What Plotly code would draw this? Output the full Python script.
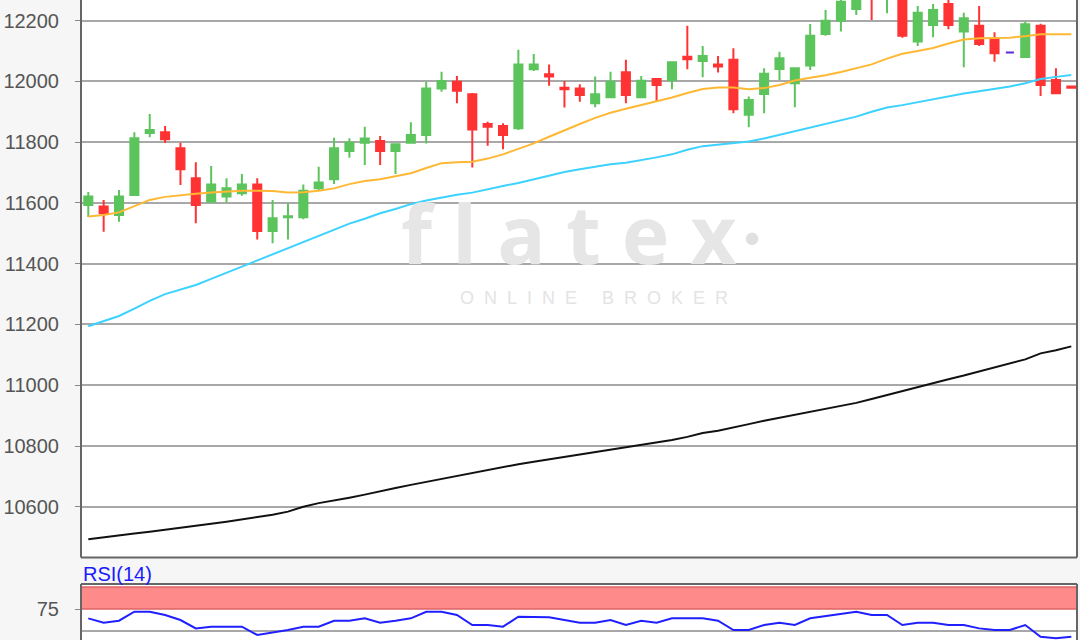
import plotly.graph_objects as go

# ---------------- data ----------------
idx = list(range(65))

opens = [11593,11588,11560,11626,11830,11833,11780,11681,11604,11621,
         11632,11661,11508,11553,11553,11648,11678,11771,11798,11804,
         11771,11798,11824,11977,11999,11958,11860,11853,11846,12040,
         12024,11979,11977,11928,11948,12030,11948,12008,12005,12081,
         12067,12056,12071,11890,11959,12041,11994,12052,12156,12200,
         12238,12305,12280,12290,12131,12186,12255,12164,12183,12139,
         12095,12080,12183,12005,11983]
highs = [11636,11610,11643,11833,11893,11853,11798,11734,11722,11681,
         11695,11681,11610,11599,11661,11719,11815,11813,11851,11820,
         11795,11866,11999,12032,12018,11962,11867,11862,12104,12090,
         12056,12001,11991,12016,12032,12071,12018,12010,12065,12183,
         12117,12084,12109,11950,12043,12098,12045,12189,12235,12285,
         12300,12330,12320,12310,12248,12255,12272,12226,12248,12162,
         12095,12197,12190,12043,11983]
lows = [11554,11505,11538,11624,11816,11797,11659,11533,11602,11601,
        11624,11480,11467,11480,11546,11643,11662,11749,11725,11725,
        11695,11795,11796,11966,11928,11717,11788,11777,11840,12034,
        11986,11914,11933,11915,11946,11928,11946,11933,11974,12040,
        12014,12029,11895,11849,11895,12005,11915,12038,12150,12164,
        12219,12202,12224,12144,12117,12145,12172,12047,12117,12065,
        12095,12078,11952,11959,11979]
closes = [11621,11566,11621,11813,11840,11810,11711,11593,11661,11648,
          11661,11508,11550,11556,11640,11667,11780,11798,11812,11771,
          11793,11824,11977,12001,11969,11842,11851,11824,12056,12056,
          12016,11974,11955,11958,11999,11955,12002,11988,12063,12073,
          12084,12049,11908,11939,12025,12076,12043,12150,12200,12262,
          12285,12280,12300,12150,12226,12235,12186,12208,12123,12093,
          12095,12188,11988,11961,11979]

sma_short = [11555,11560,11569,11590,11610,11620,11626,11630,11634,11637,
             11640,11640,11639,11634,11635,11640,11648,11662,11672,11678,
             11688,11698,11715,11731,11734,11736,11746,11760,11778,11796,
             11818,11840,11860,11880,11897,11910,11922,11933,11947,11962,
             11975,11980,11980,11974,11978,11988,12003,12012,12020,12031,
             12043,12056,12075,12091,12100,12110,12125,12138,12142,12142,
             12144,12149,12155,12155,12155]
sma_mid = [11194,11210,11228,11252,11278,11300,11315,11330,11350,11370,
           11392,11412,11430,11450,11470,11490,11512,11532,11548,11566,
           11580,11596,11608,11618,11627,11634,11646,11656,11666,11678,
           11690,11702,11711,11719,11727,11732,11740,11750,11760,11775,
           11787,11792,11797,11802,11812,11824,11836,11848,11860,11872,
           11884,11900,11914,11922,11932,11941,11950,11960,11968,11975,
           11983,11994,12008,12015,12021]
sma_long = [10493,10500,10506,10512,10518,10524,10530,10537,10544,10551,
            10558,10566,10574,10584,10600,10612,10620,10630,10640,10652,
            10662,10672,10682,10690,10700,10710,10720,10730,10740,10748,
            10756,10764,10772,10780,10787,10795,10802,10810,10820,10830,
            10843,10850,10860,10872,10883,10893,10903,10912,10923,10932,
            10942,10955,10968,10982,10996,11008,11020,11032,11045,11057,
            11070,11085,11105,11115,11128]
rsi = [64.4,59.5,61.7,71.9,71.9,68.2,62.5,53.0,54.9,54.9,
       54.9,45.5,48.1,51.1,54.9,54.9,61.7,61.7,64.4,59.5,
       61.7,64.4,71.9,71.9,68.2,56.8,56.8,54.9,66.3,66.3,
       65.6,62.5,59.5,59.5,62.5,56.8,61.7,59.5,64.4,64.4,
       64.4,61.7,51.1,51.1,56.8,59.5,56.8,64.4,67.0,69.3,
       71.9,68.2,68.2,56.8,59.5,59.5,56.8,56.8,53.0,51.1,
       51.1,56.8,43.5,41.7,43.5]

price_ticks = [10600, 10800, 11000, 11200, 11400, 11600, 11800, 12000, 12200]
rsi_ticks = [75]
rsi_label = "RSI(14)"

# ---------------- styling ----------------
GREEN = "#5cc45c"
RED = "#ff3333"
DOJI = "#5a2bd8"
W, H = 1080, 640
ML, MR = 81, 3
main_bottom = 1 - 557.5 / H
rsi_top = (H - 584) / H

fig = go.Figure()

reg = [i for i in idx if opens[i] != closes[i]]
doj = [i for i in idx if opens[i] == closes[i]]

fig.add_trace(go.Candlestick(
    x=[idx[i] for i in reg], open=[opens[i] for i in reg], high=[highs[i] for i in reg],
    low=[lows[i] for i in reg], close=[closes[i] for i in reg],
    increasing=dict(line=dict(color=GREEN, width=2), fillcolor=GREEN),
    decreasing=dict(line=dict(color=RED, width=2), fillcolor=RED),
    whiskerwidth=0, showlegend=False, xaxis="x", yaxis="y"))
fig.add_trace(go.Candlestick(
    x=[idx[i] for i in doj], open=[opens[i] for i in doj], high=[highs[i] for i in doj],
    low=[lows[i] for i in doj], close=[closes[i] for i in doj],
    increasing=dict(line=dict(color=DOJI, width=2), fillcolor=DOJI),
    decreasing=dict(line=dict(color=DOJI, width=2), fillcolor=DOJI),
    whiskerwidth=0, showlegend=False, xaxis="x", yaxis="y"))

fig.add_trace(go.Scatter(x=idx, y=sma_long, mode="lines",
                         line=dict(color="#111111", width=2), showlegend=False))
fig.add_trace(go.Scatter(x=idx, y=sma_mid, mode="lines",
                         line=dict(color="#3cd2ff", width=2), showlegend=False))
fig.add_trace(go.Scatter(x=idx, y=sma_short, mode="lines",
                         line=dict(color="#ffb833", width=2), showlegend=False))

fig.add_trace(go.Scatter(x=idx, y=rsi, mode="lines", xaxis="x2", yaxis="y2",
                         line=dict(color="#1f1fff", width=2), showlegend=False))

xr = [-0.475, 64.37]
tickfont = dict(family="Liberation Sans, Arial, sans-serif", size=20, color="#555555")

fig.update_layout(
    width=W, height=H,
    margin=dict(l=ML, r=MR, t=0, b=0, autoexpand=False),
    paper_bgcolor="#f6f6f6",
    plot_bgcolor="#ffffff",
    boxgap=0.25,
    xaxis=dict(domain=[0, 1], range=xr, anchor="y", showticklabels=False, showgrid=False,
               zeroline=False, rangeslider=dict(visible=False), ticks="", automargin=False),
    xaxis2=dict(domain=[0, 1], range=xr, anchor="y2", matches="x", showticklabels=False,
                showgrid=False, zeroline=False, ticks="", automargin=False),
    yaxis=dict(domain=[main_bottom, 1], range=[10433, 12268], tickvals=price_ticks,
               tickformat="d", automargin=False,
               showgrid=True, gridcolor="#a8a8a8", gridwidth=2, zeroline=False,
               ticks="outside", ticklen=5, tickwidth=1, tickcolor="#888888",
               ticklabelstandoff=12, tickfont=tickfont),
    yaxis2=dict(domain=[0, rsi_top], range=[39.8, 103.4], tickvals=rsi_ticks,
                tickformat="d", automargin=False,
                showgrid=False, zeroline=False, ticks="outside", ticklen=5,
                tickcolor="#888888", ticklabelstandoff=12, tickfont=tickfont),
    font=dict(family="Liberation Sans, Arial, sans-serif"),
)

shapes = []
shapes.append(dict(type="rect", xref="x2 domain", yref="y2", x0=0, x1=1, y0=75, y1=100,
                   fillcolor="#ff8a8a", line=dict(color="#dd6464", width=1.5), layer="below"))
shapes.append(dict(type="line", xref="x2 domain", yref="y2", x0=0, x1=1, y0=50, y1=50,
                   line=dict(color="#a8a8a8", width=2), layer="below"))
bc = dict(color="#666666", width=2)
shapes += [
    dict(type="line", xref="paper", yref="paper", x0=0, x1=0, y0=main_bottom, y1=1, line=bc),
    dict(type="line", xref="paper", yref="paper", x0=1, x1=1, y0=main_bottom, y1=1, line=bc),
    dict(type="line", xref="paper", yref="paper", x0=0, x1=1, y0=main_bottom, y1=main_bottom, line=bc),
    dict(type="line", xref="paper", yref="paper", x0=0, x1=0, y0=0, y1=rsi_top, line=bc),
    dict(type="line", xref="paper", yref="paper", x0=1, x1=1, y0=0, y1=rsi_top, line=bc),
    dict(type="line", xref="paper", yref="paper", x0=0, x1=1, y0=rsi_top, y1=rsi_top, line=bc),
]
fig.update_layout(shapes=shapes)

nb = "&nbsp;"
annotations = [
    dict(text=rsi_label, xref="paper", yref="paper", x=0, y=1 - 574 / H,
         xanchor="left", yanchor="middle", showarrow=False,
         font=dict(family="Liberation Sans, Arial, sans-serif", size=20, color="#1a1aff")),
    dict(text="<b>f l a t e x</b>", xref="paper", yref="paper", x=(568 - ML) / (W - ML - MR),
         y=1 - 232 / H, xanchor="center", yanchor="middle", showarrow=False,
         font=dict(family="Noto Sans, sans-serif", size=80, color="#e6e6e6")),
    dict(text="\u25CF", xref="paper", yref="paper", x=(752 - ML) / (W - ML - MR),
         y=1 - 238 / H, xanchor="center", yanchor="middle", showarrow=False,
         font=dict(family="DejaVu Sans", size=16, color="#e0e0e0")),
    dict(text=(nb * 2).join("ONLINE") + nb * 5 + (nb * 2).join("BROKER"),
         xref="paper", yref="paper",
         x=(594 - ML) / (W - ML - MR), y=1 - 298 / H, xanchor="center", yanchor="middle",
         showarrow=False, font=dict(family="Liberation Sans, Arial, sans-serif", size=18, color="#e4e4e4")),
]
fig.update_layout(annotations=annotations)

fig.write_html("out.html", config={"displayModeBar": False},
               post_script="document.body.style.margin='0';document.body.style.background='#f6f6f6';")
